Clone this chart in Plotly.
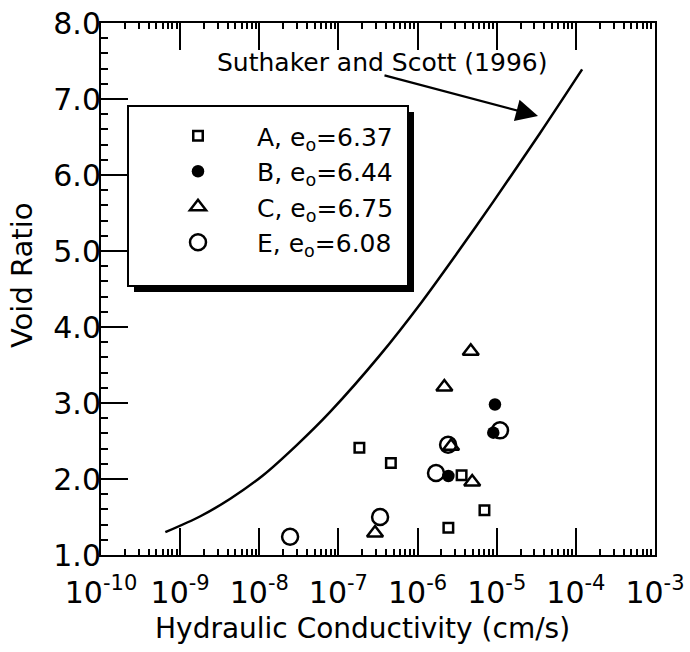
import plotly.graph_objects as go

# ---------------- data ----------------
# Suthaker and Scott (1996) curve
curve_k = [6.5e-10, 1.8e-9, 4.3e-9, 1.12e-8, 3.0e-8, 7.8e-8, 3.35e-7,
           1.13e-6, 3.15e-6, 9.06e-6, 3.52e-5, 1.2e-4]
curve_e = [1.30, 1.51, 1.74, 2.05, 2.45, 2.88, 3.63,
           4.33, 4.97, 5.65, 6.55, 7.39]

a_k = [1.84e-7, 4.6e-7, 3.6e-6, 7.0e-6, 2.45e-6]
a_e = [2.41, 2.21, 2.05, 1.59, 1.36]

b_k = [9.5e-6, 9.05e-6, 2.45e-6]
b_e = [2.98, 2.61, 2.04]

c_k = [4.7e-6, 2.18e-6, 2.65e-6, 4.9e-6, 2.9e-7]
c_e = [3.68, 3.21, 2.43, 1.96, 1.29]

e_k = [1.1e-5, 1.71e-6, 2.43e-6, 3.36e-7, 2.45e-8]
e_e = [2.64, 2.08, 2.45, 1.50, 1.24]

series_names = ["A, e<sub>o</sub>=6.37", "B, e<sub>o</sub>=6.44",
                "C, e<sub>o</sub>=6.75", "E, e<sub>o</sub>=6.08"]

x_tick_vals = [1e-10, 1e-9, 1e-8, 1e-7, 1e-6, 1e-5, 1e-4, 1e-3]
x_tick_text = ["10<sup>-10</sup>", "10<sup>-9</sup>", "10<sup>-8</sup>",
               "10<sup>-7</sup>", "10<sup>-6</sup>", "10<sup>-5</sup>",
               "10<sup>-4</sup>", "10<sup>-3</sup>"]

x_title = "Hydraulic Conductivity (cm/s)"
y_title = "Void Ratio"
curve_label = "Suthaker and Scott (1996)"

# ---------------- layout helpers ----------------
W, H = 690, 652
ML, MR, MT, MB = 101, 35, 23, 97
PW, PH = W - ML - MR, H - MT - MB
FONT = "DejaVu Sans"


def px_x(x):
    return (x - ML) / PW


def px_y(y):
    return (H - MB - y) / PH


fig = go.Figure()

fig.add_trace(go.Scatter(
    x=curve_k, y=curve_e, mode="lines", showlegend=False,
    line=dict(color="black", width=2.5, shape="spline", smoothing=0.8),
    hoverinfo="skip"))

fig.add_trace(go.Scatter(
    x=a_k, y=a_e, mode="markers", name=series_names[0], legendgroup="a",
    marker=dict(symbol="square-open", size=9.5, color="black",
                line=dict(width=2.5, color="black"))))
fig.add_trace(go.Scatter(
    x=b_k, y=b_e, mode="markers", name=series_names[1], legendgroup="b",
    marker=dict(symbol="circle", size=12.5, color="black",
                line=dict(width=0, color="black"))))
fig.add_trace(go.Scatter(
    x=c_k, y=c_e, mode="markers", name=series_names[2], legendgroup="c",
    marker=dict(symbol="triangle-up-open", size=14, color="black",
                line=dict(width=2.5, color="black"))))
fig.add_trace(go.Scatter(
    x=e_k, y=e_e, mode="markers", name=series_names[3], legendgroup="e",
    marker=dict(symbol="circle-open", size=16, color="black",
                line=dict(width=2.5, color="black"))))

axis_common = dict(
    showgrid=False, zeroline=False, showline=True, linecolor="black",
    linewidth=2, ticks="inside", tickcolor="black", tickwidth=2,
    automargin=False,
    tickfont=dict(family=FONT, size=30, color="black"),
)

fig.update_xaxes(
    type="log", range=[-10, -3], tickmode="array", tickvals=x_tick_vals,
    ticktext=x_tick_text, tickangle=0, ticklen=27, mirror="ticks",
    ticklabelstandoff=10,
    minor=dict(ticks="inside", ticklen=6, dtick="D1", tickcolor="black",
               tickwidth=1.5),
    **axis_common)
fig.update_yaxes(
    range=[1, 8], dtick=1, tick0=1, ticklen=27, tickformat=".1f",
    mirror=True, ticklabelstandoff=-8,
    minor=dict(ticks="inside", ticklen=7, dtick=0.2, tickcolor="black",
               tickwidth=1.5),
    **axis_common)

# legend box with drop shadow
shapes = [
    dict(type="rect", xref="paper", yref="paper", layer="above",
         x0=px_x(134), x1=px_x(414), y0=px_y(292), y1=px_y(112),
         fillcolor="black", line=dict(width=0)),
    dict(type="rect", xref="paper", yref="paper", layer="above",
         x0=px_x(128), x1=px_x(408), y0=px_y(286), y1=px_y(106),
         fillcolor="white", line=dict(width=2, color="black")),
]

annotations = [
    dict(text=curve_label, xref="paper", yref="paper",
         x=px_x(381.5), y=px_y(62), xanchor="center", yanchor="middle",
         showarrow=False, font=dict(family=FONT, size=25, color="black")),
    dict(text="", xref="paper", yref="paper", x=px_x(538), y=px_y(116),
         ax=-155, ay=-41, showarrow=True, arrowhead=2, arrowsize=2.0,
         arrowwidth=2.2, arrowcolor="black", standoff=0),
    dict(text=x_title, xref="paper", yref="paper",
         x=px_x(362), y=px_y(628), xanchor="center", yanchor="middle",
         showarrow=False, font=dict(family=FONT, size=28, color="black")),
    dict(text=y_title, xref="paper", yref="paper",
         x=px_x(22), y=px_y(276), xanchor="center", yanchor="middle",
         textangle=-90,
         showarrow=False, font=dict(family=FONT, size=29, color="black")),
]

fig.update_layout(
    width=W, height=H,
    margin=dict(l=ML, r=MR, t=MT, b=MB, autoexpand=False),
    paper_bgcolor="white", plot_bgcolor="white",
    showlegend=True,
    legend=dict(x=px_x(139), y=px_y(113), xanchor="left", yanchor="top",
                bgcolor="rgba(0,0,0,0)", borderwidth=0,
                font=dict(family=FONT, size=25, color="black"),
                itemwidth=108, tracegroupgap=10, traceorder="normal"),
    shapes=shapes,
    annotations=annotations,
)

fig.write_html("out.html")
